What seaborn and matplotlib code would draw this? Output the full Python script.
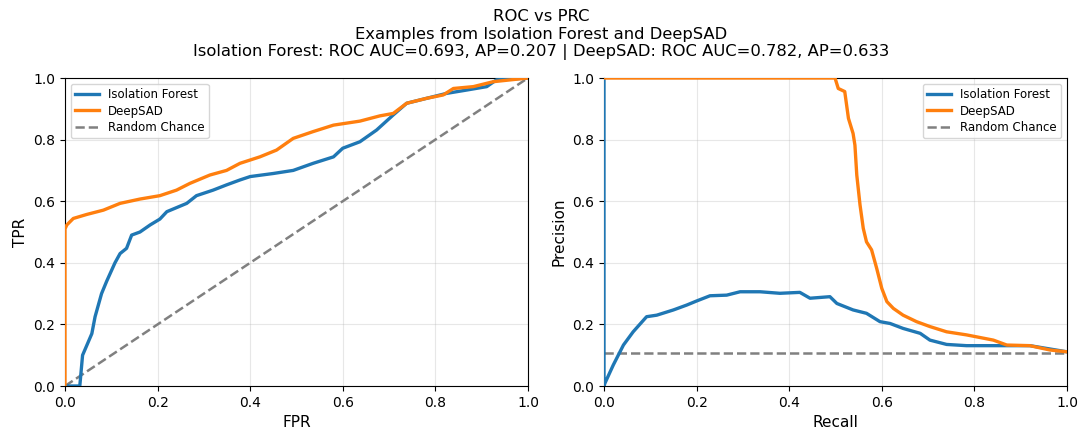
import matplotlib
matplotlib.use("Agg")
import matplotlib.pyplot as plt
import seaborn as sns

# ROC data
if_fpr = [0.0, 0.032, 0.038, 0.058, 0.065, 0.079, 0.09, 0.108, 0.119, 0.133, 0.144, 0.162, 0.184, 0.205,
          0.22, 0.263, 0.284, 0.32, 0.349, 0.378, 0.40, 0.45, 0.493, 0.536, 0.58, 0.60, 0.637, 0.673,
          0.709, 0.738, 0.781, 0.824, 0.868, 0.911, 0.932, 1.0]
if_tpr = [0.0, 0.0, 0.10, 0.17, 0.225, 0.30, 0.34, 0.40, 0.43, 0.447, 0.49, 0.50, 0.523, 0.542,
          0.566, 0.593, 0.618, 0.636, 0.653, 0.669, 0.68, 0.69, 0.70, 0.723, 0.744, 0.772, 0.793, 0.831,
          0.88, 0.918, 0.934, 0.95, 0.961, 0.972, 0.994, 1.0]
ds_fpr = [0.0, 0.0, 0.004, 0.018, 0.047, 0.083, 0.119, 0.162, 0.205, 0.241, 0.27, 0.313, 0.349, 0.378,
          0.421, 0.457, 0.493, 0.536, 0.58, 0.637, 0.68, 0.709, 0.738, 0.781, 0.817, 0.839, 0.882, 0.925, 1.0]
ds_tpr = [0.0, 0.51, 0.523, 0.544, 0.557, 0.571, 0.593, 0.607, 0.618, 0.636, 0.658, 0.685, 0.70, 0.723,
          0.744, 0.766, 0.804, 0.826, 0.847, 0.86, 0.877, 0.885, 0.918, 0.934, 0.945, 0.966, 0.972, 0.988, 1.0]

# PR data
if_rec = [0.0, 0.0, 0.002, 0.02, 0.042, 0.063, 0.092, 0.114, 0.15, 0.179, 0.20, 0.229, 0.265, 0.294, 0.337,
          0.38, 0.423, 0.445, 0.488, 0.503, 0.538, 0.567, 0.596, 0.618, 0.646, 0.683, 0.704, 0.74, 0.783,
          0.855, 0.92, 1.0]
if_prec = [1.0, 0.0, 0.009, 0.068, 0.133, 0.176, 0.225, 0.23, 0.247, 0.263, 0.276, 0.293, 0.295, 0.306, 0.306,
           0.301, 0.304, 0.285, 0.29, 0.268, 0.247, 0.236, 0.209, 0.203, 0.187, 0.171, 0.149, 0.135, 0.131,
           0.131, 0.131, 0.111]
ds_rec = [0.0, 0.499, 0.506, 0.52, 0.528, 0.538, 0.542, 0.546, 0.553, 0.56, 0.567, 0.578, 0.589, 0.60, 0.611,
          0.625, 0.646, 0.675, 0.704, 0.74, 0.783, 0.841, 0.87, 0.92, 0.963, 1.0]
ds_prec = [1.0, 1.0, 0.966, 0.956, 0.869, 0.82, 0.782, 0.685, 0.588, 0.512, 0.468, 0.442, 0.382, 0.317, 0.274,
           0.252, 0.23, 0.209, 0.193, 0.176, 0.166, 0.149, 0.133, 0.131, 0.117, 0.111]
baseline = 0.107

labels = ["Isolation Forest", "DeepSAD"]
title = ("ROC vs PRC\nExamples from Isolation Forest and DeepSAD\n"
         "Isolation Forest: ROC AUC=0.693, AP=0.207 | DeepSAD: ROC AUC=0.782, AP=0.633")

fig = plt.figure(figsize=(10.83, 4.30), dpi=100)
ax1 = fig.add_axes([0.060, 0.1023, 0.4275, 0.7163])
ax2 = fig.add_axes([0.5577, 0.1023, 0.4275, 0.7163])
blue, orange = "#1f77b4", "#ff7f0e"

for lab, c, xs, ys in [(labels[0], blue, if_fpr, if_tpr), (labels[1], orange, ds_fpr, ds_tpr)]:
    sns.lineplot(x=xs, y=ys, color=c, linewidth=2.4, sort=False, estimator=None, ax=ax1, label=lab,
                 zorder=3)
ax1.plot([0, 1], [0, 1], "--", color="gray", linewidth=1.8, label="Random Chance")

for lab, c, xs, ys in [(labels[0], blue, if_rec, if_prec), (labels[1], orange, ds_rec, ds_prec)]:
    sns.lineplot(x=xs, y=ys, color=c, linewidth=2.4, sort=False, estimator=None, ax=ax2, label=lab,
                 zorder=3)
ax2.axhline(baseline, linestyle="--", color="gray", linewidth=1.8, label="Random Chance")

for ax, xl, yl, loc in [(ax1, "FPR", "TPR", "upper left"), (ax2, "Recall", "Precision", "upper right")]:
    ax.set_xlim(0, 1)
    ax.set_ylim(0, 1)
    ax.set_xlabel(xl, fontsize=11)
    ax.set_ylabel(yl, fontsize=11)
    ax.tick_params(labelsize=10)
    ax.grid(True, alpha=0.3)
    ax.legend(loc=loc, fontsize=8.5, labelspacing=0.3, borderpad=0.35)
    for s in ax.spines.values():
        s.set_color("black")
        s.set_zorder(2)

fig.suptitle(title, fontsize=11.8, y=0.978, linespacing=1.18)
fig.savefig("out.png", dpi=100)
